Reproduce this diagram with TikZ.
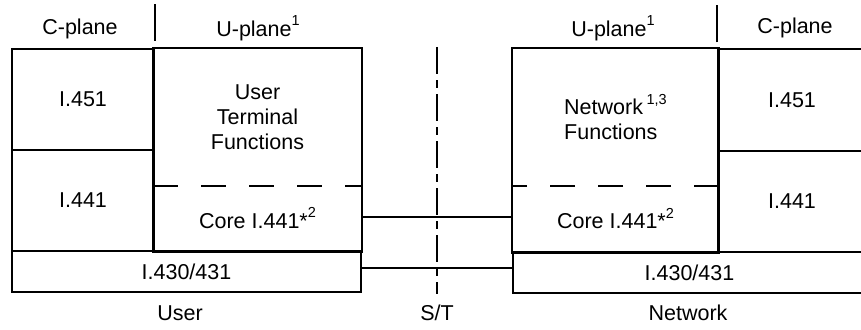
\documentclass[tikz,border=0pt]{standalone}
\usepackage{fontspec}
\setmainfont{Liberation Sans}
\usepackage{tikz}
\usetikzlibrary{positioning}

\newcommand{\upidx}[1]{\raisebox{0.5em}{\fontsize{14.5}{14.5}\selectfont #1}}

\begin{document}
\begin{tikzpicture}[
    x=1pt, y=-1pt,
    cell/.style={draw, line width=2pt, inner sep=0pt, align=center,
                 font=\fontsize{21.5}{25}\selectfont},
    half/.style={cell, draw=none},
    wire/.style={line width=2pt},
    split/.style={line width=2pt, dash pattern=on 25pt off 23pt},
    refline/.style={line width=2pt, dash pattern=on 27pt off 6pt on 8pt off 6pt},
    label/.style={font=\fontsize{21.5}{25}\selectfont, inner sep=0pt},
]
\useasboundingbox (0,0) rectangle (861,329);

% User side
\node[cell, minimum width=142pt, minimum height=101pt] (uc451) at (83,99.5) {I.451};
\node[cell, minimum width=142pt, minimum height=101pt] (uc441) at (83,200.5) {I.441};
\node[half, minimum width=207pt, minimum height=136pt] (uterm) at (257.5,117) {User\\Terminal\\Functions};
\node[half, minimum width=207pt, minimum height=66pt] (ucore) at (257.5,218) {Core I.441*\upidx{2}};
\draw[wire] (uterm.north west) rectangle (ucore.south east);
\draw[split] (uterm.south west) -- (uterm.south east);
\node[cell, minimum width=349pt, minimum height=41pt] (uphy) at (186.5,271.5) {I.430/431};

% Network side (open to the right)
\node[half, minimum width=205pt, minimum height=136pt, align=left] (nterm) at (615.5,117) {Network\,\upidx{1,3}\\Functions};
\node[half, minimum width=205pt, minimum height=67pt] (ncore) at (615.5,218.5) {Core I.441*\upidx{2}};
\draw[wire] (nterm.north west) rectangle (ncore.south east);
\draw[split] (nterm.south east) -- (nterm.south west);
\node[cell, minimum width=148pt, minimum height=101pt] (nc451) at (792,100) {I.451};
\node[cell, minimum width=148pt, minimum height=101pt] (nc441) at (792,201.5) {I.441};
\node[cell, minimum width=353pt, minimum height=41pt] (nphy) at (689.5,272.5) {I.430/431};

% Headers
\node[label] (uhc) at (80,29) {C-plane};
\node[label] (uhu) at (258,28) {U-plane\upidx{1}};
\node[label] (nhu) at (613,28) {U-plane\upidx{1}};
\node[label] (nhc) at (795,28) {C-plane};
\draw[wire] ([yshift=7pt]uc451.north east) -- ++(0,-37);
\draw[wire] ([yshift=6pt]nc451.north west) -- ++(0,-37);

% Links across S/T
\draw[wire] ([yshift=1pt]ucore.east) -- ([yshift=1pt]ucore.east -| ncore.west);
\draw[wire] ([yshift=4pt]uphy.east) -- ([yshift=4pt]uphy.east -| nphy.west);
\coordinate (sttop) at (437,47);
\coordinate (stbot) at (437,294);
\draw[refline] (sttop) -- (stbot);

% Footers
\node[label] (ulab) at (180,313) {User};
\node[label] (stlab) at (437,313) {S/T};
\node[label] (nlab) at (688,313) {Network};

\end{tikzpicture}
\end{document}
